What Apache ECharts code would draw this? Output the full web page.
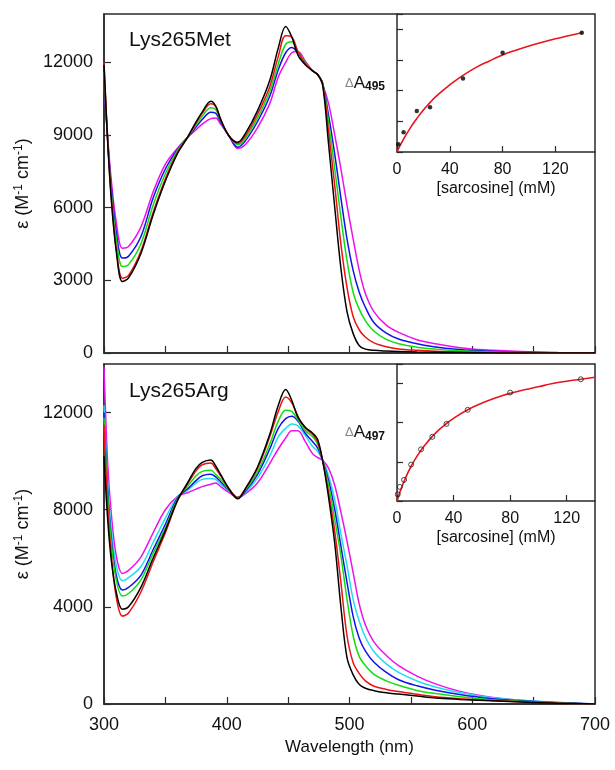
<!DOCTYPE html>
<html><head><meta charset="utf-8">
<script src="https://cdn.jsdelivr.net/npm/echarts@6/dist/echarts.min.js"></script>
<style>html,body{margin:0;padding:0;background:#fff}#c{width:615px;height:770px}</style>
</head><body><div id="c"></div>
<script>
// ---- wavelength grid (nm) ----
const wavelength = [300,303,306,310,315,320,330,340,350,360,368,375,380,387,391,395,402,409,415,425,435,442,448,453,458,464,470,474,478,483,488,493,498,503,508,513,520,530,540,555,570,590,610,640,670,700];

// ---- Lys265Met spectra (M-1 cm-1) ----
const metBlack   = [11900,8700,6300,4200,2950,3100,4100,5700,7100,8250,8900,9550,9950,10400,10200,9650,8950,8700,9050,10000,11250,12600,13480,13050,12300,11900,11650,11500,11100,8600,6000,3500,1700,800,300,160,110,80,60,40,30,20,10,0,0,0];
const metRed     = [12000,8800,6400,4300,3090,3200,4200,5800,7200,8300,8900,9500,9900,10290,10180,9650,8950,8650,8950,9850,11000,12250,13100,13050,12450,11950,11650,11500,11150,9100,6900,4500,2700,1500,950,650,420,260,170,110,70,40,20,10,0,0];
const metGreen   = [11600,8800,6600,4700,3570,3650,4500,6100,7400,8380,8900,9420,9780,10125,10050,9600,8950,8600,8850,9700,10800,11950,12750,12850,12450,12000,11650,11500,11150,9500,7600,5600,3800,2500,1800,1330,900,560,380,240,160,90,50,20,0,0];
const metBlue    = [11300,8800,6800,5000,3920,4000,4800,6400,7600,8420,8900,9330,9640,9945,9900,9550,8950,8500,8750,9550,10600,11700,12400,12620,12400,12000,11650,11500,11150,9800,8200,6400,4700,3400,2500,1880,1250,820,580,380,250,140,80,30,10,0];
const metMagenta = [11100,8900,7100,5400,4330,4400,5200,6650,7800,8470,8900,9220,9450,9680,9700,9450,8950,8450,8600,9300,10300,11400,12000,12400,12450,12050,11650,11500,11100,10300,9000,7600,6100,4700,3400,2450,1700,1150,850,550,380,220,130,60,20,0];

// ---- Lys265Arg spectra (M-1 cm-1) ----
const argBlack   = [10200,7600,5900,4600,3900,4000,4800,6000,7150,8400,9100,9700,9950,10050,9800,9450,8850,8450,8850,9750,11100,12300,12950,12500,11800,11400,11150,10900,10050,8500,6600,4000,1900,1200,800,650,550,460,410,330,250,190,140,80,30,0];
const argRed     = [11500,8100,6100,4400,3620,3750,4600,5850,7050,8380,9050,9600,9850,9920,9700,9400,8850,8500,8850,9700,11000,12050,12640,12400,11850,11350,11100,10800,10050,8700,7100,5000,2800,1700,1250,950,730,600,510,400,300,220,160,90,30,0];
const argGreen   = [11800,8600,6600,5100,4450,4550,5100,6200,7250,8450,8950,9400,9580,9620,9450,9250,8800,8500,8800,9550,10700,11650,12100,12050,11700,11250,11000,10700,10050,9000,7600,6100,4300,2800,1950,1580,1220,950,770,560,430,300,200,110,40,0];
const argBlue    = [12000,8800,6800,5300,4690,4800,5300,6350,7400,8500,8850,9200,9400,9460,9350,9150,8780,8500,8750,9450,10500,11350,11750,11850,11650,11150,10800,10550,10050,9200,8000,6500,5000,3600,2700,2180,1720,1300,1000,750,570,390,250,130,50,0];
const argCyan    = [12300,9100,7200,5700,5075,5200,5650,6650,7650,8550,8800,9100,9250,9290,9250,9050,8760,8500,8700,9300,10200,11000,11350,11530,11450,11050,10600,10400,10050,9400,8400,7000,5700,4300,3400,2750,2150,1650,1300,950,700,470,300,150,60,0];
const argMagenta = [13900,9900,7800,6100,5375,5500,6050,7050,8000,8550,8700,8850,8950,9050,9100,8950,8700,8500,8650,9100,9900,10500,10950,11250,11250,10800,10300,10150,10050,9700,9000,7900,6700,5400,4100,3250,2550,2000,1580,1150,830,520,320,150,60,0];

// ---- insets: titration (sarcosine, mM) ----
const metConc = [1,5,15,25,50,80,140];
const metDA   = [0.25,0.64,1.34,1.46,2.40,3.24,3.89];
const metFitConc = [0,2,5,10,15,20,25,30,40,50,60,70,80,90,100,110,120,130,140];
const metFit     = [0,0.18,0.42,0.78,1.09,1.37,1.61,1.83,2.19,2.50,2.76,2.97,3.16,3.32,3.46,3.58,3.69,3.79,3.89];
const argConc = [0.5,2,5,10,17,25,35,50,80,130];
const argDA   = [0.17,0.36,0.54,0.93,1.32,1.64,1.97,2.33,2.77,3.11];
const argFitConc = [0,1,2,5,10,15,20,25,30,35,40,50,60,70,80,90,100,110,120,130,140];
const argFit     = [0,0.11,0.22,0.50,0.89,1.19,1.44,1.65,1.83,1.98,2.11,2.33,2.50,2.64,2.75,2.84,2.92,3.00,3.06,3.11,3.16];

const insetTicks = ['0','40','80','120'];
const mainXLabels = ['300','400','500','600','700'];

const FONT = '"Liberation Sans", Arial, sans-serif';
const AX = '#2a2a2a';
const COL = {black:'#000000', red:'#ee1111', green:'#11dd11', blue:'#1111ee', cyan:'#22ddee', magenta:'#ee11ee'};

function pairs(xs, ys){ return xs.map((x,i)=>[x, ys[i]]); }
function spec(name, ys, color, xi, yi){
  return {type:'line', name, xAxisIndex:xi, yAxisIndex:yi, data:pairs(wavelength, ys),
    showSymbol:false, smooth:0.35, lineStyle:{color, width:1.5}, itemStyle:{color}, z:3};
}

const chart = echarts.init(document.getElementById('c'), null, {renderer:'canvas'});

const mainY = (interval) => ({
  type:'value', min:0, max:14000, interval,
  axisLine:{show:true, lineStyle:{color:AX, width:1.5}},
  axisTick:{show:true, inside:true, length:7, lineStyle:{color:AX, width:1.2}},
  axisLabel:{show:true, showMaxLabel:false, margin:11, color:'#111', fontSize:18, fontFamily:FONT,
    formatter:(v)=> String(v)},
  splitLine:{show:false},
  name:'{a|ε (M}{s|-1}{a| cm}{s|-1}{a|)}', nameLocation:'middle', nameRotate:90, nameGap:60,
  nameTextStyle:{color:'#111', fontFamily:FONT, rich:{
    a:{fontSize:18, fontFamily:FONT, color:'#111'},
    s:{fontSize:12, fontFamily:FONT, color:'#111', padding:[0,0,9,0]}
  }}
});

const mainX = (showLabels) => ({
  type:'value', min:300, max:700, interval:50,
  axisLine:{show:true, lineStyle:{color:AX, width:1.5}},
  axisTick:{show:true, inside:true, length:7, lineStyle:{color:AX, width:1.2}},
  axisLabel:{show:showLabels, margin:12, color:'#111', fontSize:18, fontFamily:FONT,
    formatter:(v)=> mainXLabels.includes(String(v)) ? String(v) : ''},
  splitLine:{show:false},
  name: showLabels ? 'Wavelength (nm)' : '', nameLocation:'middle', nameGap:35,
  nameTextStyle:{color:'#111', fontSize:17, fontFamily:FONT}
});

const insetX = (max) => ({
  type:'value', min:0, max, interval:40,
  axisLine:{show:true, lineStyle:{color:AX, width:1.5}},
  axisTick:{show:true, inside:true, length:6, lineStyle:{color:AX, width:1.2}},
  axisLabel:{show:true, showMaxLabel:false, margin:10, color:'#111', fontSize:16, fontFamily:FONT,
    formatter:(v)=> insetTicks.includes(String(v)) ? String(v) : ''},
  splitLine:{show:false},
  name:'[sarcosine] (mM)', nameLocation:'middle', nameGap:29,
  nameTextStyle:{color:'#111', fontSize:16, fontFamily:FONT}
});

const insetY = (max, sub) => ({
  type:'value', min:0, max, interval:1,
  axisLine:{show:true, lineStyle:{color:AX, width:1.5}},
  axisTick:{show:true, inside:true, length:6, lineStyle:{color:AX, width:1.2}},
  axisLabel:{show:false, showMaxLabel:false},
  splitLine:{show:false},
  name:'{d|Δ}{a|A}{s|'+sub+'}', nameLocation:'middle', nameRotate:0, nameGap:12,
  nameTextStyle:{fontFamily:FONT, rich:{
    d:{fontSize:13, color:'#888', fontFamily:FONT},
    a:{fontSize:17, color:'#111', fontFamily:FONT},
    s:{fontSize:12, color:'#111', fontFamily:FONT, fontWeight:'bold', padding:[8,0,0,0]}
  }}
});

const option = {
  animation:false,
  backgroundColor:'#fff',
  textStyle:{fontFamily:FONT},
  grid:[
    {left:104, top:14, width:491, height:339, show:true, borderColor:AX, borderWidth:1.5, backgroundColor:'transparent'},
    {left:104, top:364, width:491, height:340, show:true, borderColor:AX, borderWidth:1.5, backgroundColor:'transparent'},
    {left:397, top:14, width:198, height:138, show:false},
    {left:397, top:364, width:198, height:137, show:false}
  ],
  xAxis:[
    Object.assign(mainX(false), {gridIndex:0}),
    Object.assign(mainX(true), {gridIndex:1}),
    Object.assign(insetX(150), {gridIndex:2}),
    Object.assign(insetX(140), {gridIndex:3})
  ],
  yAxis:[
    Object.assign(mainY(3000), {gridIndex:0}),
    Object.assign(mainY(4000), {gridIndex:1}),
    Object.assign(insetY(4.5,'495'), {gridIndex:2}),
    Object.assign(insetY(3.5,'497'), {gridIndex:3})
  ],
  graphic:[
    {type:'text', left:129, top:30, style:{text:'Lys265Met', fontSize:21, fontFamily:FONT, fill:'#111'}},
    {type:'text', left:129, top:381, style:{text:'Lys265Arg', fontSize:21, fontFamily:FONT, fill:'#111'}}
  ],
  series:[
    spec('Met magenta', metMagenta, COL.magenta, 0, 0),
    spec('Met blue', metBlue, COL.blue, 0, 0),
    spec('Met green', metGreen, COL.green, 0, 0),
    spec('Met red', metRed, COL.red, 0, 0),
    spec('Met black', metBlack, COL.black, 0, 0),
    spec('Arg magenta', argMagenta, COL.magenta, 1, 1),
    spec('Arg cyan', argCyan, COL.cyan, 1, 1),
    spec('Arg blue', argBlue, COL.blue, 1, 1),
    spec('Arg green', argGreen, COL.green, 1, 1),
    spec('Arg red', argRed, COL.red, 1, 1),
    spec('Arg black', argBlack, COL.black, 1, 1),
    {type:'line', xAxisIndex:2, yAxisIndex:2, data:pairs(metFitConc, metFit), showSymbol:false, smooth:true,
      lineStyle:{color:'#e8141c', width:1.6}, z:4},
    {type:'scatter', xAxisIndex:2, yAxisIndex:2, data:pairs(metConc, metDA), symbol:'circle', symbolSize:4.5,
      itemStyle:{color:'#000'}, z:5},
    {type:'line', xAxisIndex:3, yAxisIndex:3, data:pairs(argFitConc, argFit), showSymbol:false, smooth:true,
      lineStyle:{color:'#e8141c', width:1.6}, z:4},
    {type:'scatter', xAxisIndex:3, yAxisIndex:3, data:pairs(argConc, argDA), symbol:'circle', symbolSize:5,
      itemStyle:{color:'transparent', borderColor:'#222', borderWidth:1}, z:5}
  ]
};
chart.setOption(option);
</script>
</body></html>
